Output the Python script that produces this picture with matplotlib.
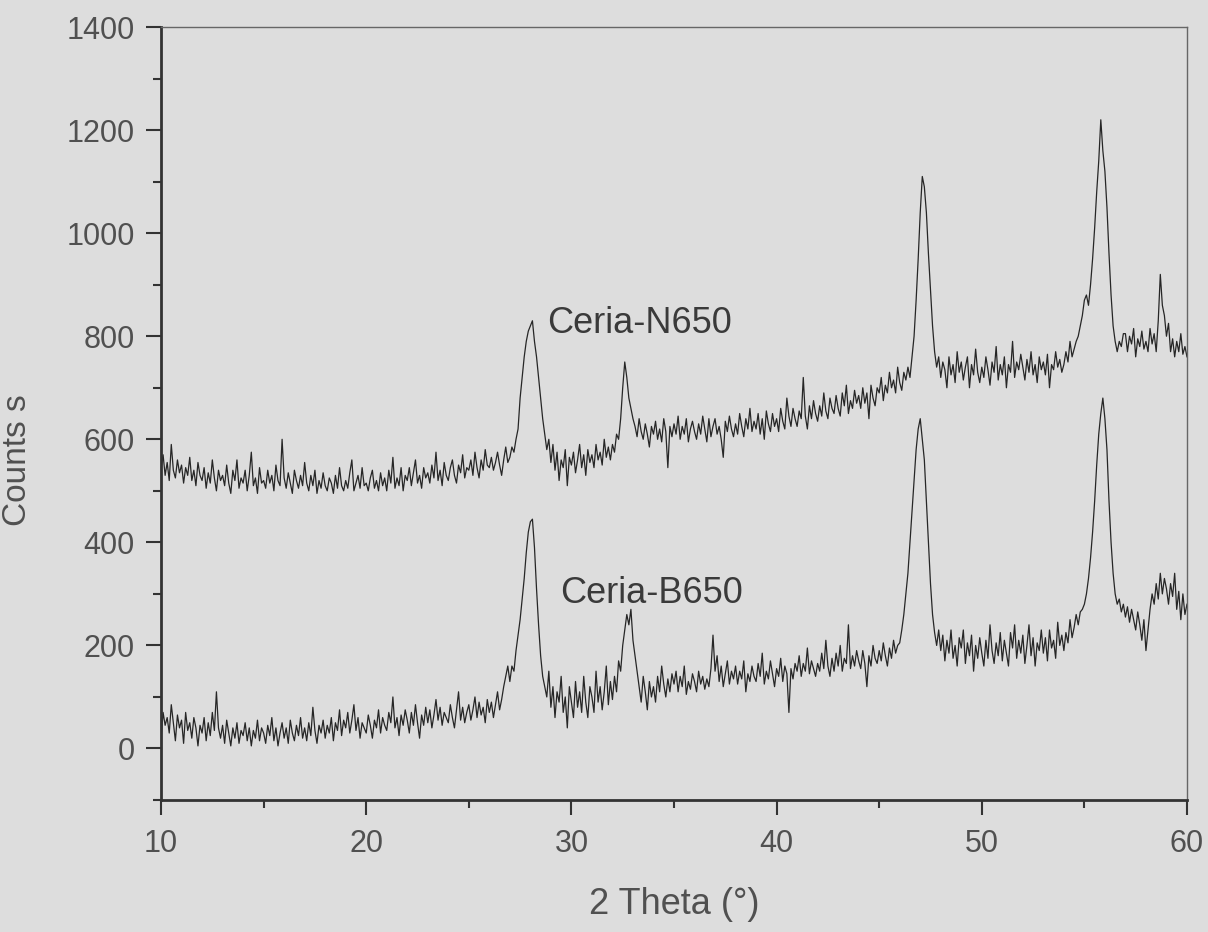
#import libraries
import numpy as np
import matplotlib
matplotlib.use('Agg')
import matplotlib.pyplot as plt

plt.rcParams['font.family'] = ['Liberation Sans', 'DejaVu Sans']

#2 theta grid, 0.1 deg steps from 10 to 60
two_theta = np.linspace(10, 60, 501)

#Ceria-N650 counts, one row per degree (10.0 ... 59.9) + last point at 60
n650 = [
    545, 570, 530, 555, 520, 590, 540, 525, 560, 535,  #10
    550, 515, 545, 530, 565, 520, 540, 510, 555, 530,  #11
    520, 545, 505, 535, 515, 560, 525, 500, 540, 520,  #12
    530, 510, 550, 515, 495, 540, 520, 560, 505, 525,  #13
    515, 540, 500, 530, 575, 510, 525, 495, 545, 515,  #14
    520, 505, 540, 515, 530, 500, 550, 520, 510, 600,  #15
    525, 505, 535, 515, 495, 540, 520, 505, 530, 510,  #16
    555, 515, 500, 530, 510, 540, 495, 520, 505, 535,  #17
    510, 500, 525, 515, 495, 530, 505, 545, 510, 500,  #18
    520, 505, 535, 560, 500, 515, 530, 505, 545, 510,  #19
    515, 500, 525, 540, 505, 520, 500, 535, 510, 525,  #20
    500, 540, 515, 565, 505, 525, 510, 545, 500, 530,  #21
    520, 545, 510, 535, 560, 515, 530, 505, 545, 525,  #22
    535, 515, 550, 525, 575, 520, 540, 510, 555, 530,  #23
    520, 545, 560, 530, 515, 550, 535, 570, 525, 545,  #24
    540, 560, 530, 575, 545, 525, 560, 540, 580, 550,  #25
    545, 565, 540, 555, 575, 550, 530, 560, 585, 555,  #26
    565, 585, 575, 600, 620, 680, 720, 760, 790, 810,  #27
    820, 830, 790, 760, 720, 680, 640, 610, 580, 600,  #28
    555, 590, 540, 575, 520, 560, 545, 580, 510, 565,  #29
    550, 575, 535, 560, 590, 545, 570, 530, 580, 555,  #30
    570, 545, 590, 560, 575, 550, 600, 565, 585, 560,  #31
    590, 575, 610, 600, 640, 700, 750, 720, 680, 660,  #32
    640, 625, 605, 640, 615, 600, 630, 610, 585, 625,  #33
    610, 635, 600, 620, 595, 640, 615, 545, 625, 605,  #34
    630, 610, 645, 600, 625, 610, 640, 595, 620, 635,  #35
    615, 600, 630, 610, 645, 620, 595, 640, 605, 625,  #36
    640, 610, 625, 600, 565, 635, 615, 645, 620, 605,  #37
    630, 610, 650, 625, 605, 640, 620, 660, 615, 635,  #38
    620, 650, 610, 640, 600, 655, 630, 615, 650, 625,  #39
    640, 615, 660, 635, 620, 680, 645, 625, 660, 640,  #40
    625, 655, 640, 720, 645, 620, 665, 640, 675, 650,  #41
    635, 665, 645, 690, 655, 640, 680, 660, 650, 685,  #42
    660, 645, 690, 665, 705, 650, 675, 660, 695, 670,  #43
    685, 660, 700, 670, 690, 640, 705, 680, 665, 700,  #44
    690, 720, 675, 705, 690, 730, 700, 715, 690, 740,  #45
    710, 695, 730, 715, 740, 720, 760, 800, 870, 950,  #46
    1040, 1110, 1090, 1040, 960, 890, 820, 770, 740, 760,  #47
    720, 750, 735, 700, 760, 725, 745, 710, 770, 730,  #48
    750, 715, 740, 760, 700, 745, 725, 775, 730, 710,  #49
    740, 720, 760, 735, 705, 750, 730, 780, 715, 745,  #50
    725, 760, 700, 745, 730, 790, 720, 750, 735, 765,  #51
    740, 715, 755, 730, 770, 725, 745, 710, 760, 735,  #52
    750, 725, 765, 700, 745, 735, 770, 740, 755, 730,  #53
    745, 770, 750, 790, 760, 775, 790, 800, 820, 840,  #54
    870, 880, 860, 900, 950, 1010, 1080, 1140, 1220, 1160,  #55
    1120, 1050, 960, 880, 820, 790, 770, 790, 780, 805,  #56
    805, 770, 800, 785, 815, 760, 795, 780, 810, 775,  #57
    790, 770, 815, 785, 805, 770, 830, 920, 860, 840,  #58
    800, 825, 770, 795, 760, 790, 770, 805, 765, 780,  #59
    760]

#Ceria-B650 counts
b650 = [
    20, 70, 45, 60, 30, 85, 50, 15, 65, 40,  #10
    55, 10, 70, 35, 50, 20, 60, 40, 5, 45,  #11
    30, 60, 15, 50, 25, 70, 35, 110, 40, 20,  #12
    45, 10, 55, 30, 5, 40, 20, 50, 10, 35,  #13
    25, 50, 15, 40, 5, 35, 20, 55, 15, 40,  #14
    30, 10, 45, 25, 60, 15, 40, 5, 30, 50,  #15
    20, 40, 10, 55, 30, 15, 45, 25, 60, 20,  #16
    40, 15, 50, 25, 80, 35, 10, 45, 30, 55,  #17
    20, 45, 30, 60, 15, 50, 35, 75, 25, 55,  #18
    40, 70, 30, 55, 85, 35, 60, 20, 50, 40,  #19
    30, 65, 45, 20, 55, 40, 75, 30, 60, 45,  #20
    35, 70, 50, 100, 40, 60, 25, 65, 45, 75,  #21
    55, 30, 70, 45, 85, 50, 20, 65, 45, 80,  #22
    50, 75, 40, 65, 95, 55, 80, 45, 70, 60,  #23
    50, 85, 60, 40, 75, 110, 55, 80, 50, 70,  #24
    85, 55, 75, 100, 60, 90, 65, 80, 50, 95,  #25
    70, 90, 60, 85, 110, 75, 95, 120, 140, 160,  #26
    130, 160, 150, 190, 220, 250, 290, 330, 380, 420,  #27
    440, 445, 390, 310, 240, 180, 140, 120, 100, 150,  #28
    80, 120, 60, 110, 90, 140, 70, 100, 40, 120,  #29
    90, 60, 130, 80, 110, 70, 140, 90, 60, 120,  #30
    100, 70, 150, 90, 120, 75, 110, 160, 85, 130,  #31
    95, 140, 110, 170, 150, 200, 230, 260, 240, 270,  #32
    210, 180, 150, 120, 90, 140, 110, 75, 130, 100,  #33
    120, 90, 140, 110, 160, 125, 100, 135, 110, 145,  #34
    125, 150, 110, 140, 120, 160, 105, 130, 115, 145,  #35
    130, 110, 150, 125, 140, 115, 135, 120, 155, 220,  #36
    150, 180, 130, 160, 120, 145, 170, 125, 150, 135,  #37
    160, 125, 150, 135, 170, 110, 145, 130, 160, 140,  #38
    130, 165, 140, 185, 125, 150, 135, 170, 145, 120,  #39
    155, 140, 175, 130, 160, 145, 70, 155, 135, 165,  #40
    150, 180, 140, 165, 150, 195, 145, 170, 155, 140,  #41
    165, 150, 185, 155, 210, 160, 140, 175, 150, 185,  #42
    160, 200, 150, 175, 165, 240, 155, 180, 160, 190,  #43
    170, 155, 190, 165, 120, 180, 160, 200, 175, 165,  #44
    190, 170, 205, 180, 160, 195, 175, 210, 185, 200,  #45
    205, 230, 260, 300, 340, 400, 460, 520, 580, 620,  #46
    640, 600, 560, 480, 400, 320, 260, 225, 200, 230,  #47
    190, 220, 170, 210, 185, 230, 175, 200, 160, 215,  #48
    195, 230, 165, 205, 180, 220, 150, 200, 175, 215,  #49
    185, 160, 210, 175, 240, 190, 165, 205, 180, 225,  #50
    170, 210, 185, 160, 225, 195, 240, 175, 210, 185,  #51
    220, 165, 200, 240, 180, 215, 160, 205, 190, 230,  #52
    185, 215, 170, 230, 195, 210, 175, 245, 200, 220,  #53
    190, 225, 205, 250, 215, 235, 260, 240, 265, 270,  #54
    280, 300, 330, 370, 420, 480, 550, 610, 650, 680,  #55
    640, 580, 480, 400, 340, 300, 280, 290, 265, 280,  #56
    255, 275, 245, 270, 250, 230, 265, 240, 210, 250,  #57
    190, 230, 270, 300, 280, 320, 290, 340, 300, 330,  #58
    310, 280, 320, 295, 340, 270, 305, 250, 300, 260,  #59
    280]

labels = ['Ceria-N650', 'Ceria-B650']
label_pos = [(28.8, 806), (29.45, 282)]

bg = '#dddddd'
ink = '#262626'
txt = '#505050'

fig = plt.figure(figsize=(12.08, 9.32), dpi=100, facecolor=bg)
ax = fig.add_axes([0.1333, 0.1416, 0.8493, 0.8294], facecolor=bg)

ax.plot(two_theta, n650, color=ink, linewidth=0.9)
ax.plot(two_theta, b650, color=ink, linewidth=0.9)

for lab, (lx, ly) in zip(labels, label_pos):
    ax.text(lx, ly, lab, fontsize=26, color='#3a3a3a', ha='left', va='baseline')

ax.set_xlim(10, 60)
ax.set_ylim(-100, 1400)
ax.set_xticks(np.arange(10, 61, 10))
ax.set_xticks(np.arange(15, 60, 10), minor=True)
ax.set_yticks(np.arange(0, 1401, 200))
ax.set_yticks(np.arange(-100, 1400, 200), minor=True)

ax.tick_params(which='major', direction='out', length=11, width=1.5, color='#333333',
               labelsize=22, labelcolor=txt, pad=8)
ax.tick_params(which='minor', direction='out', length=5.5, width=1.5, color='#333333')
ax.tick_params(axis='x', which='major', pad=10)

for s in ['left', 'bottom']:
    ax.spines[s].set_linewidth(2)
    ax.spines[s].set_color('#333333')
for s in ['top', 'right']:
    ax.spines[s].set_linewidth(1)
    ax.spines[s].set_color('#666666')

ax.set_xlabel('2 Theta (°)', fontsize=26, color=txt, labelpad=20)
ax.set_ylabel('Counts s', fontsize=24, color=txt)
ax.yaxis.set_label_coords(-0.125, 0.44)

fig.savefig('out.png', dpi=100, facecolor=bg)
